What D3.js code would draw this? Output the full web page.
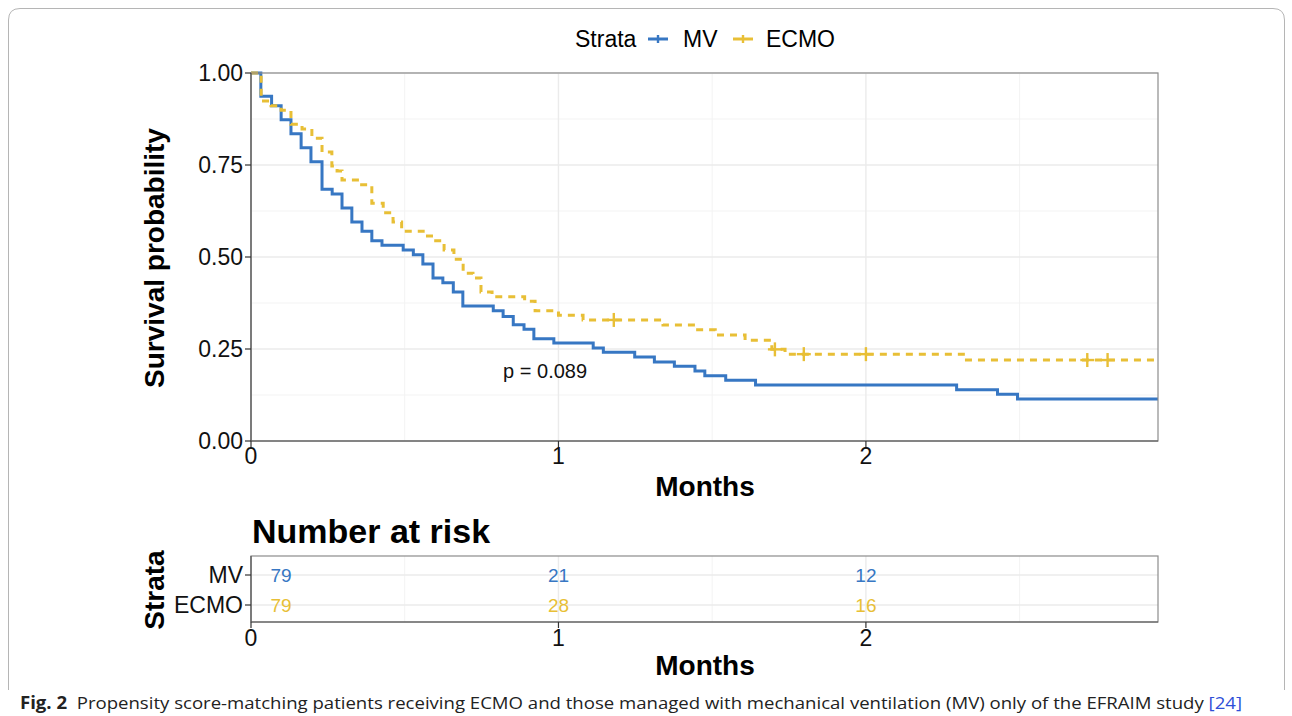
<!DOCTYPE html>
<html><head><meta charset="utf-8">
<script src="https://cdn.jsdelivr.net/npm/d3@7"></script>
<style>
body{margin:0;background:#fff;}
svg{display:block;}
text{font-family:"Liberation Sans", Arial, Helvetica, sans-serif;}
text.caption{font-family:"Open Sans","Noto Sans",sans-serif;}
</style>
</head><body>
<svg id="c" width="1292" height="716"></svg>
<script>
// ---------------- data ----------------
const strata = ["MV", "ECMO"];
const mvTime = [0, 0.032, 0.067, 0.098, 0.130, 0.163, 0.195, 0.231, 0.264, 0.296, 0.328, 0.361, 0.393, 0.426, 0.495, 0.528, 0.559, 0.592, 0.624, 0.658, 0.689, 0.788, 0.820, 0.853, 0.888, 0.920, 0.985, 1.113, 1.146, 1.248, 1.312, 1.377, 1.444, 1.476, 1.544, 1.641, 2.295, 2.428, 2.493, 2.95];
const mvSurv = [1, 0.937, 0.911, 0.873, 0.835, 0.797, 0.759, 0.684, 0.671, 0.633, 0.595, 0.570, 0.544, 0.532, 0.519, 0.506, 0.481, 0.443, 0.430, 0.405, 0.367, 0.354, 0.338, 0.316, 0.304, 0.278, 0.266, 0.253, 0.241, 0.228, 0.215, 0.203, 0.190, 0.177, 0.165, 0.152, 0.139, 0.127, 0.114, 0.114];
const ecmoTime = [0, 0.033, 0.065, 0.098, 0.130, 0.166, 0.198, 0.231, 0.263, 0.280, 0.296, 0.354, 0.393, 0.430, 0.462, 0.490, 0.560, 0.592, 0.628, 0.660, 0.690, 0.722, 0.748, 0.784, 0.890, 0.924, 1.000, 1.080, 1.340, 1.444, 1.510, 1.607, 1.694, 1.737, 2.322, 2.95];
const ecmoSurv = [1, 0.924, 0.911, 0.899, 0.861, 0.848, 0.823, 0.785, 0.747, 0.734, 0.709, 0.696, 0.646, 0.620, 0.595, 0.570, 0.557, 0.544, 0.519, 0.494, 0.456, 0.443, 0.405, 0.392, 0.380, 0.354, 0.342, 0.329, 0.315, 0.302, 0.288, 0.274, 0.249, 0.236, 0.220, 0.220];
const ecmoCensorTime = [1.180, 1.704, 1.798, 2.0, 2.72, 2.786];
const xTicks = [0, 1, 2];
const xMinor = [0.5, 1.5, 2.5];
const yTicks = [0, 0.25, 0.5, 0.75, 1];
const yTickLabels = ["0.00", "0.25", "0.50", "0.75", "1.00"];
const yMinor = [0.125, 0.375, 0.625, 0.875];
const riskTimes = [0, 1, 2];
const riskMV = [79, 21, 12];
const riskECMO = [79, 28, 16];
const pLabel = "p = 0.089";
const pCoord = [0.82, 0.172];
const captionBold = "Fig. 2";
const captionText = "  Propensity score-matching patients receiving ECMO and those managed with mechanical ventilation (MV) only of the EFRAIM study ";
const captionRef = "[24]";

// ---------------- styles ----------------
const BLUE = "#3777C3", YELLOW = "#E8BF36";
const colorOf = {MV: BLUE, ECMO: YELLOW};
const GRID = "#EBEBEB", GRIDMINOR = "#F3F3F3";

const svg = d3.select("#c");

// frame
svg.append("path")
  .attr("d", "M8.5,690 L8.5,20 Q8.5,8.5 20,8.5 L1273,8.5 Q1284.5,8.5 1284.5,20 L1284.5,690")
  .attr("fill", "none").attr("stroke", "#b5b5b5").attr("stroke-width", 1);

// scales
const x = d3.scaleLinear().domain([0, 2.95]).range([251, 1158]);
const y = d3.scaleLinear().domain([0, 1]).range([441, 73]);

// ---------------- main panel ----------------
const g = svg.append("g");
g.selectAll(".ymin").data(yMinor).join("line")
  .attr("x1", x.range()[0]).attr("x2", x.range()[1])
  .attr("y1", d => y(d)).attr("y2", d => y(d))
  .attr("stroke", GRIDMINOR).attr("stroke-width", 1);
g.selectAll(".xmin").data(xMinor).join("line")
  .attr("y1", y.range()[0]).attr("y2", y.range()[1])
  .attr("x1", d => x(d)).attr("x2", d => x(d))
  .attr("stroke", GRIDMINOR).attr("stroke-width", 1);
g.selectAll(".ymaj").data(yTicks).join("line")
  .attr("x1", x.range()[0]).attr("x2", x.range()[1])
  .attr("y1", d => y(d)).attr("y2", d => y(d))
  .attr("stroke", GRID).attr("stroke-width", 1.4);
g.selectAll(".xmaj").data(xTicks).join("line")
  .attr("y1", y.range()[0]).attr("y2", y.range()[1])
  .attr("x1", d => x(d)).attr("x2", d => x(d))
  .attr("stroke", GRID).attr("stroke-width", 1.4);

// curves
const line = d3.line().x(d => x(d[0])).y(d => y(d[1])).curve(d3.curveStepAfter);
const mvData = mvTime.map((t, i) => [t, mvSurv[i]]);
const ecData = ecmoTime.map((t, i) => [t, ecmoSurv[i]]);
g.append("path").attr("d", line(mvData)).attr("fill", "none")
  .attr("stroke", BLUE).attr("stroke-width", 3).attr("stroke-linejoin", "miter");
g.append("path").attr("d", line(ecData)).attr("fill", "none")
  .attr("stroke", YELLOW).attr("stroke-width", 3).attr("stroke-dasharray", "7,6");

// censor marks
function stepAt(times, surv, t) {
  let v = surv[0];
  for (let i = 0; i < times.length; i++) if (times[i] <= t) v = surv[i];
  return v;
}
const cens = g.selectAll(".cens").data(ecmoCensorTime).join("g")
  .attr("transform", d => `translate(${x(d)},${y(stepAt(ecmoTime, ecmoSurv, d))})`);
cens.append("line").attr("x1", -7).attr("x2", 7).attr("y1", 0).attr("y2", 0)
  .attr("stroke", YELLOW).attr("stroke-width", 2.4);
cens.append("line").attr("x1", 0).attr("x2", 0).attr("y1", -7).attr("y2", 7)
  .attr("stroke", YELLOW).attr("stroke-width", 2.4);

// panel border
g.append("rect").attr("x", x.range()[0]).attr("y", y.range()[1])
  .attr("width", x.range()[1] - x.range()[0]).attr("height", y.range()[0] - y.range()[1])
  .attr("fill", "none").attr("stroke", "#8c8c8c").attr("stroke-width", 1.2);
g.append("line").attr("x1", x.range()[0]).attr("x2", x.range()[0]).attr("y1", y.range()[1]).attr("y2", y.range()[0])
  .attr("stroke", "#555").attr("stroke-width", 1.2);
g.append("line").attr("x1", x.range()[0]).attr("x2", x.range()[1]).attr("y1", y.range()[0]).attr("y2", y.range()[0])
  .attr("stroke", "#555").attr("stroke-width", 1.2);

// y axis ticks & labels
g.selectAll(".yt").data(yTicks).join("line")
  .attr("x1", 245).attr("x2", 251).attr("y1", d => y(d)).attr("y2", d => y(d))
  .attr("stroke", "#333").attr("stroke-width", 1.2);
g.selectAll(".ytl").data(yTicks).join("text")
  .attr("x", 243).attr("y", d => y(d) + 8).attr("text-anchor", "end")
  .attr("font-size", 23).attr("fill", "#111").text((d, i) => yTickLabels[i]);
// x axis ticks & labels
g.selectAll(".xt").data(xTicks).join("line")
  .attr("y1", 441).attr("y2", 447).attr("x1", d => x(d)).attr("x2", d => x(d))
  .attr("stroke", "#333").attr("stroke-width", 1.2);
g.selectAll(".xtl").data(xTicks).join("text")
  .attr("x", d => x(d)).attr("y", 464).attr("text-anchor", "middle")
  .attr("font-size", 23).attr("fill", "#111").text(d => d);

// axis titles
svg.append("text").attr("x", 705).attr("y", 496).attr("text-anchor", "middle")
  .attr("font-size", 28).attr("font-weight", "bold").text("Months");
svg.append("text").attr("transform", "translate(164,258) rotate(-90)").attr("text-anchor", "middle")
  .attr("font-size", 28).attr("font-weight", "bold").text("Survival probability");

// p value
svg.append("text").attr("x", x(pCoord[0])).attr("y", y(pCoord[1]))
  .attr("font-size", 20).attr("fill", "#111").text(pLabel);

// legend
const leg = svg.append("g");
leg.append("text").attr("x", 575).attr("y", 47).attr("font-size", 23).text("Strata");
const legItems = [{k: "MV", kx: 648, tx: 683}, {k: "ECMO", kx: 733, tx: 766}];
legItems.forEach(it => {
  leg.append("line").attr("x1", it.kx).attr("x2", it.kx + 20).attr("y1", 39).attr("y2", 39)
    .attr("stroke", colorOf[it.k]).attr("stroke-width", 3);
  leg.append("line").attr("x1", it.kx + 10).attr("x2", it.kx + 10).attr("y1", 35).attr("y2", 43)
    .attr("stroke", colorOf[it.k]).attr("stroke-width", 2.4);
  leg.append("text").attr("x", it.tx).attr("y", 47).attr("font-size", 23).text(it.k);
});

// ---------------- risk table ----------------
svg.append("text").attr("x", 252).attr("y", 543).attr("font-size", 34).attr("font-weight", "bold")
  .text("Number at risk");
const ry = d3.scalePoint().domain(strata).range([575, 605]);
const rTop = 556, rBot = 622;
const rt = svg.append("g");
rt.selectAll(".rxmin").data(xMinor).join("line")
  .attr("y1", rTop).attr("y2", rBot).attr("x1", d => x(d)).attr("x2", d => x(d))
  .attr("stroke", GRIDMINOR).attr("stroke-width", 1);
rt.selectAll(".rxmaj").data(xTicks).join("line")
  .attr("y1", rTop).attr("y2", rBot).attr("x1", d => x(d)).attr("x2", d => x(d))
  .attr("stroke", GRID).attr("stroke-width", 1.4);
rt.selectAll(".rymaj").data(strata).join("line")
  .attr("x1", x.range()[0]).attr("x2", x.range()[1]).attr("y1", d => ry(d)).attr("y2", d => ry(d))
  .attr("stroke", GRID).attr("stroke-width", 1.4);
rt.append("rect").attr("x", x.range()[0]).attr("y", rTop)
  .attr("width", x.range()[1] - x.range()[0]).attr("height", rBot - rTop)
  .attr("fill", "none").attr("stroke", "#8c8c8c").attr("stroke-width", 1.2);
rt.append("line").attr("x1", x.range()[0]).attr("x2", x.range()[0]).attr("y1", rTop).attr("y2", rBot)
  .attr("stroke", "#555").attr("stroke-width", 1.2);
rt.append("line").attr("x1", x.range()[0]).attr("x2", x.range()[1]).attr("y1", rBot).attr("y2", rBot)
  .attr("stroke", "#555").attr("stroke-width", 1.2);
rt.selectAll(".ryt").data(strata).join("line")
  .attr("x1", 245).attr("x2", 251).attr("y1", d => ry(d)).attr("y2", d => ry(d))
  .attr("stroke", "#333").attr("stroke-width", 1.2);
rt.selectAll(".rytl").data(strata).join("text")
  .attr("x", 243).attr("y", d => ry(d) + 8).attr("text-anchor", "end")
  .attr("font-size", 23).attr("fill", "#111").text(d => d);
rt.selectAll(".rxt").data(xTicks).join("line")
  .attr("y1", rBot).attr("y2", rBot + 6).attr("x1", d => x(d)).attr("x2", d => x(d))
  .attr("stroke", "#333").attr("stroke-width", 1.2);
rt.selectAll(".rxtl").data(xTicks).join("text")
  .attr("x", d => x(d)).attr("y", 646).attr("text-anchor", "middle")
  .attr("font-size", 23).attr("fill", "#111").text(d => d);
const riskRows = [{s: "MV", v: riskMV}, {s: "ECMO", v: riskECMO}];
riskRows.forEach(r => {
  rt.selectAll(".rn" + r.s).data(riskTimes).join("text")
    .attr("x", (d) => x(d) + (d === 0 ? 30 : 0)).attr("y", ry(r.s) + 7)
    .attr("text-anchor", "middle").attr("font-size", 19).attr("fill", colorOf[r.s])
    .text((d, i) => r.v[i]);
});
svg.append("text").attr("x", 705).attr("y", 675).attr("text-anchor", "middle")
  .attr("font-size", 28).attr("font-weight", "bold").text("Months");
svg.append("text").attr("transform", "translate(164,590) rotate(-90)").attr("text-anchor", "middle")
  .attr("font-size", 28).attr("font-weight", "bold").text("Strata");

// ---------------- caption ----------------
const cap = svg.append("text").attr("class", "caption").attr("x", 20).attr("y", 709)
  .attr("font-size", 17).attr("fill", "#222")
  .attr("xml:space", "preserve").style("white-space", "pre");
cap.append("tspan").attr("font-weight", "bold").text(captionBold);
cap.append("tspan").text(captionText);
cap.append("tspan").attr("fill", "#2f4fd8").text(captionRef);
const w = cap.node().getComputedTextLength();
const target = 1222;
if (w > 0) cap.attr("textLength", target).attr("lengthAdjust", "spacingAndGlyphs");
</script>
</body></html>
